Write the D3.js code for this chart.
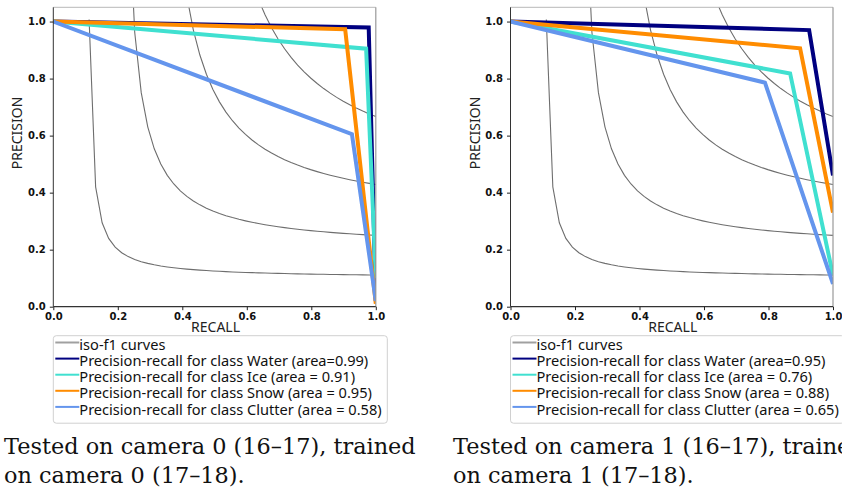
<!DOCTYPE html>
<html>
<head>
<meta charset="utf-8">
<script src="https://cdn.jsdelivr.net/npm/d3@7"></script>
<style>
  body { margin: 0; background: #fff; overflow: hidden; }
  svg { display: block; }
</style>
</head>
<body>
<svg id="chart" width="842" height="497"></svg>
<script>
// class names and colours, same for both panels
var classNames = ["Water", "Ice", "Snow", "Clutter"];
var classColors = ["navy", "turquoise", "darkorange", "cornflowerblue"];

// iso-f1 reference levels
var fScores = [0.2, 0.4, 0.6, 0.8];

// camera 0 (left panel): recall / precision points per class
var cam0WaterRecall = [0, 0.978, 1.0];
var cam0WaterPrecision = [1.0, 0.979, 0.02];
var cam0IceRecall = [0, 0.970, 1.0];
var cam0IcePrecision = [1.0, 0.905, 0.10];
var cam0SnowRecall = [0, 0.905, 1.0];
var cam0SnowPrecision = [1.0, 0.973, 0.01];
var cam0ClutterRecall = [0, 0.926, 1.0];
var cam0ClutterPrecision = [1.0, 0.605, 0.02];
var cam0Labels = [
  "Precision-recall for class Water (area=0.99)",
  "Precision-recall for class Ice (area = 0.91)",
  "Precision-recall for class Snow (area = 0.95)",
  "Precision-recall for class Clutter (area = 0.58)"
];
var cam0Caption = ["Tested on camera 0 (16\u201317), trained", "on camera 0 (17\u201318)."];

// camera 1 (right panel)
var cam1WaterRecall = [0, 0.926, 1.0];
var cam1WaterPrecision = [1.0, 0.970, 0.46];
var cam1IceRecall = [0, 0.867, 1.0];
var cam1IcePrecision = [1.0, 0.818, 0.11];
var cam1SnowRecall = [0, 0.898, 1.0];
var cam1SnowPrecision = [1.0, 0.906, 0.33];
var cam1ClutterRecall = [0, 0.789, 1.0];
var cam1ClutterPrecision = [1.0, 0.786, 0.08];
var cam1Labels = [
  "Precision-recall for class Water (area=0.95)",
  "Precision-recall for class Ice (area = 0.76)",
  "Precision-recall for class Snow (area = 0.88)",
  "Precision-recall for class Clutter (area = 0.65)"
];
var cam1Caption = ["Tested on camera 1 (16\u201317), trained", "on camera 1 (17\u201318)."];

var axisTicks = [0, 0.2, 0.4, 0.6, 0.8, 1.0];

var svg = d3.select("#chart");

function zipPoints(rs, ps) {
  return rs.map(function (r, i) { return [r, ps[i]]; });
}

function isoCurve(f) {
  // same construction as the sklearn example: 50 samples of recall
  var pts = [];
  for (var i = 0; i < 50; i++) {
    var x = 0.01 + i * (0.99 / 49);
    var y = f * x / (2 * x - f);
    if (y >= 0) pts.push([x, y]);
  }
  return pts;
}

function drawPanel(id, left, series, labels, caption, captionX) {
  var top = 7.3, bottom = 306.7, width = 322.5;
  var x = d3.scaleLinear().domain([0, 1]).range([left, left + width]);
  var y = d3.scaleLinear().domain([0, 1.05]).range([bottom, top]);

  var g = svg.append("g");

  g.append("clipPath").attr("id", "clip" + id)
    .append("rect")
    .attr("x", left).attr("y", top)
    .attr("width", width).attr("height", bottom - top);

  var line = d3.line().x(function (d) { return x(d[0]); }).y(function (d) { return y(d[1]); });

  var plot = g.append("g").attr("clip-path", "url(#clip" + id + ")");

  plot.selectAll("path.iso")
    .data(fScores)
    .enter()
    .append("path")
    .attr("class", "iso")
    .attr("d", function (f) { return line(isoCurve(f)); })
    .style("fill", "none")
    .style("stroke", "#6e6e6e")
    .style("stroke-width", 1.1);

  plot.selectAll("path.pr")
    .data(series)
    .enter()
    .append("path")
    .attr("class", "pr")
    .attr("d", function (d) { return line(d); })
    .style("fill", "none")
    .style("stroke", function (d, i) { return classColors[i]; })
    .style("stroke-width", 4)
    .style("stroke-linejoin", "miter");

  // frame
  g.append("line").attr("x1", left).attr("x2", left + width).attr("y1", top).attr("y2", top)
    .style("stroke", "#b8b8b8").style("stroke-width", 1);
  g.append("line").attr("x1", left + width).attr("x2", left + width).attr("y1", top).attr("y2", bottom)
    .style("stroke", "#999").style("stroke-width", 1.2);
  g.append("line").attr("x1", left).attr("x2", left).attr("y1", top).attr("y2", bottom)
    .style("stroke", "#333").style("stroke-width", 1);
  g.append("line").attr("x1", left).attr("x2", left + width).attr("y1", bottom).attr("y2", bottom)
    .style("stroke", "#333").style("stroke-width", 1.2);

  var xAxis = g.append("g")
    .attr("transform", "translate(0," + bottom + ")")
    .call(d3.axisBottom(x).tickValues(axisTicks).tickFormat(d3.format(".1f")).tickSize(3.5).tickPadding(2.5).tickSizeOuter(0));
  var yAxis = g.append("g")
    .attr("transform", "translate(" + left + ",0)")
    .call(d3.axisLeft(y).tickValues(axisTicks).tickFormat(d3.format(".1f")).tickSize(3.5).tickPadding(4).tickSizeOuter(0));
  [xAxis, yAxis].forEach(function (a) {
    a.select(".domain").remove();
    a.selectAll("line").style("stroke", "#222");
    a.selectAll("text")
      .style("font-family", "DejaVu Sans")
      .style("font-weight", "bold")
      .style("font-size", "10px")
      .style("fill", "#111");
  });

  g.append("text")
    .attr("x", left + width / 2 + 1)
    .attr("y", 331.5)
    .attr("text-anchor", "middle")
    .style("font-family", "Noto Sans")
    .style("font-size", "14px")
    .style("fill", "#222")
    .text("RECALL");

  g.append("text")
    .attr("transform", "translate(" + (left - 31) + ",133) rotate(-90)")
    .attr("text-anchor", "middle")
    .style("font-family", "Noto Sans")
    .style("font-size", "14px")
    .style("fill", "#222")
    .text("PRECISION");

  // legend below the axes
  var lgX = left, lgY = 335.7;
  var legend = g.append("g");
  legend.append("rect")
    .attr("x", lgX).attr("y", lgY)
    .attr("width", 334).attr("height", 87.5)
    .attr("rx", 3)
    .style("fill", "#fff")
    .style("stroke", "#d0d0d0")
    .style("stroke-width", 1);

  var entries = [{ label: "iso-f1 curves", color: "#a0a0a0" }].concat(
    labels.map(function (l, i) { return { label: l, color: classColors[i] }; })
  );
  var rows = legend.selectAll("g.row")
    .data(entries)
    .enter()
    .append("g")
    .attr("class", "row")
    .attr("transform", function (d, i) { return "translate(0," + (lgY + 9.3 + i * 16.1) + ")"; });
  rows.append("line")
    .attr("x1", lgX + 2).attr("x2", lgX + 26)
    .attr("y1", -2.5).attr("y2", -2.5)
    .style("stroke", function (d) { return d.color; })
    .style("stroke-width", 2);
  rows.append("text")
    .attr("x", lgX + 26)
    .attr("dy", "0.35em")
    .style("font-family", "Noto Sans")
    .style("font-size", "14.6px")
    .style("fill", "#111")
    .text(function (d) { return d.label; });

  g.selectAll("text.caption")
    .data(caption)
    .enter()
    .append("text")
    .attr("class", "caption")
    .attr("x", captionX)
    .attr("y", function (d, i) { return 453.5 + i * 29.5; })
    .style("font-family", "DejaVu Serif")
    .style("font-size", "22.4px")
    .style("fill", "#111")
    .text(function (d) { return d; });
}

drawPanel("0", 53.3, [
  zipPoints(cam0WaterRecall, cam0WaterPrecision),
  zipPoints(cam0IceRecall, cam0IcePrecision),
  zipPoints(cam0SnowRecall, cam0SnowPrecision),
  zipPoints(cam0ClutterRecall, cam0ClutterPrecision)
], cam0Labels, cam0Caption, 4);

drawPanel("1", 510.5, [
  zipPoints(cam1WaterRecall, cam1WaterPrecision),
  zipPoints(cam1IceRecall, cam1IcePrecision),
  zipPoints(cam1SnowRecall, cam1SnowPrecision),
  zipPoints(cam1ClutterRecall, cam1ClutterPrecision)
], cam1Labels, cam1Caption, 453);
</script>
</body>
</html>
